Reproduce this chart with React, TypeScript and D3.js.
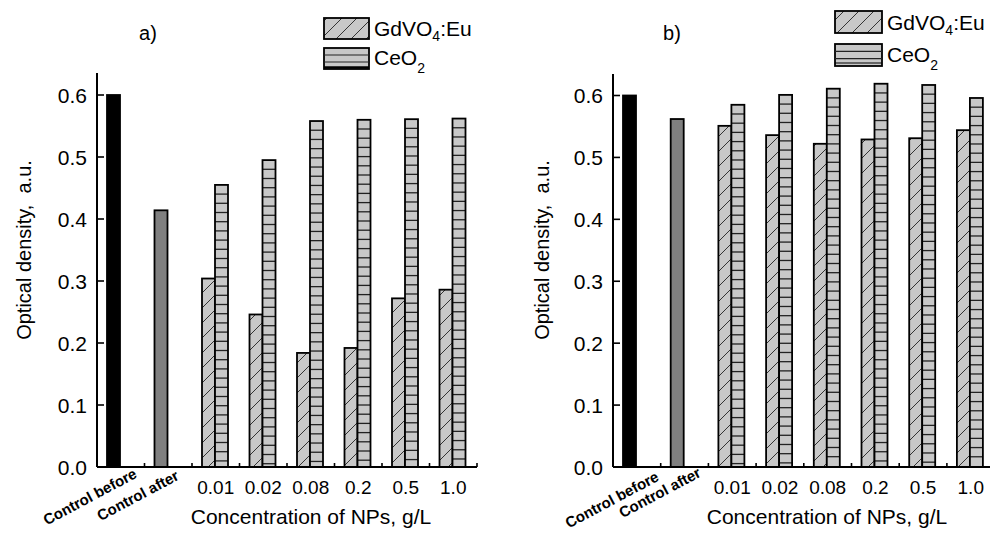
import React, { useRef, useEffect } from 'react';
import * as d3 from 'd3';

// categories along the x axis (two controls + NP concentrations, g/L)
const categories = ['Control before', 'Control after', '0.01', '0.02', '0.08', '0.2', '0.5', '1.0'];
const controlCats = ['Control before', 'Control after'];
const concCats = ['0.01', '0.02', '0.08', '0.2', '0.5', '1.0'];
const yTicks = [0, 0.1, 0.2, 0.3, 0.4, 0.5, 0.6];

// panel a)
const controlA = [0.6, 0.414];
const gdvoA = [0.304, 0.246, 0.184, 0.192, 0.272, 0.286];
const ceoA = [0.455, 0.495, 0.558, 0.56, 0.561, 0.562];

// panel b)
const controlB = [0.6, 0.562];
const gdvoB = [0.551, 0.536, 0.522, 0.529, 0.531, 0.544];
const ceoB = [0.585, 0.601, 0.611, 0.619, 0.617, 0.596];

const FONT = "Arial, 'Liberation Sans', sans-serif";
const GREY = '#c8c8c8';

const App = () => {
  const svgRef = useRef<SVGSVGElement>(null);

  useEffect(() => {
    const svg = d3.select(svgRef.current);
    svg.selectAll('*').remove();

    const defs = svg.append('defs');
    const hatch = defs.append('pattern')
      .attr('id', 'hatch')
      .attr('patternUnits', 'userSpaceOnUse')
      .attr('width', 15)
      .attr('height', 15);
    hatch.append('rect').attr('width', 15).attr('height', 15).attr('fill', GREY);
    hatch.append('path')
      .attr('d', 'M0,15 L15,0 M-3,3 L3,-3 M12,18 L18,12')
      .attr('stroke', '#333')
      .attr('stroke-width', 1);

    const panels = [
      { label: 'a)', axisX: 97, top: 73, base: 467, y06: 95, band: 47.5, right: 477,
        controls: controlA, gdvo: gdvoA, ceo: ceoA, yLabelX: 31, titleX: 148, titleCx: 311,
        ctrlEnd: [[138, 477], [180, 479]], doubleBottom: false,
        legendX: 324, legendY: [18, 48], legendW: 45, legendH: 21 },
      { label: 'b)', axisX: 613, top: 74, base: 467, y06: 95.5, band: 47.7, right: 995,
        controls: controlB, gdvo: gdvoB, ceo: ceoB, yLabelX: 549, titleX: 672, titleCx: 827,
        ctrlEnd: [[660, 480], [702, 476]], doubleBottom: true,
        legendX: 835, legendY: [11, 44], legendW: 47, legendH: 22 },
    ];

    panels.forEach(p => {
      const g = svg.append('g');
      const x = d3.scaleBand()
        .domain(categories)
        .range([p.axisX, p.axisX + p.band * categories.length])
        .paddingInner(0)
        .paddingOuter(0);
      const y = d3.scaleLinear().domain([0, 0.6]).range([p.base, p.y06]);
      const barW = 13;
      const off = 10;

      // control bars
      g.selectAll('.ctrl')
        .data(controlCats)
        .enter().append('rect')
        .attr('x', d => x(d)! + off)
        .attr('y', (d, i) => y(p.controls[i]))
        .attr('width', barW)
        .attr('height', (d, i) => p.base - y(p.controls[i]))
        .attr('fill', (d, i) => (i === 0 ? '#000' : '#808080'))
        .attr('stroke', '#000')
        .attr('stroke-width', 1.8);

      // GdVO4:Eu hatched bars
      g.selectAll('.gd')
        .data(concCats)
        .enter().append('rect')
        .attr('x', d => x(d)! + off)
        .attr('y', (d, i) => y(p.gdvo[i]))
        .attr('width', barW)
        .attr('height', (d, i) => p.base - y(p.gdvo[i]))
        .attr('fill', 'url(#hatch)')
        .attr('stroke', '#000')
        .attr('stroke-width', 1.8);

      // CeO2 bars with horizontal lines
      concCats.forEach((c, i) => {
        const bx = x(c)! + off + barW;
        const top = y(p.ceo[i]);
        g.append('rect')
          .attr('x', bx)
          .attr('y', top)
          .attr('width', barW)
          .attr('height', p.base - top)
          .attr('fill', GREY);
        for (let ly = top + 9.2; ly < p.base - 2; ly += 9.2) {
          g.append('line')
            .attr('x1', bx).attr('x2', bx + barW)
            .attr('y1', ly).attr('y2', ly)
            .attr('stroke', '#222').attr('stroke-width', 1.3);
        }
        g.append('rect')
          .attr('x', bx)
          .attr('y', top)
          .attr('width', barW)
          .attr('height', p.base - top)
          .attr('fill', 'none')
          .attr('stroke', '#000')
          .attr('stroke-width', 1.8);
      });

      // y axis
      g.append('line')
        .attr('x1', p.axisX).attr('x2', p.axisX)
        .attr('y1', p.top).attr('y2', p.base)
        .attr('stroke', '#000').attr('stroke-width', 2);
      yTicks.forEach(t => {
        g.append('line')
          .attr('x1', p.axisX).attr('x2', p.axisX + 7)
          .attr('y1', y(t)).attr('y2', y(t))
          .attr('stroke', '#000').attr('stroke-width', 1.6);
        g.append('text')
          .attr('x', p.axisX - 10)
          .attr('y', y(t))
          .attr('dy', '0.36em')
          .attr('text-anchor', 'end')
          .attr('font-family', FONT)
          .attr('font-size', 21)
          .text(d3.format('.1f')(t));
      });

      // x axis
      g.append('line')
        .attr('x1', p.axisX).attr('x2', p.right)
        .attr('y1', p.base).attr('y2', p.base)
        .attr('stroke', '#000').attr('stroke-width', 2);
      categories.forEach(c => {
        const tx = x(c)! + x.bandwidth();
        g.append('line')
          .attr('x1', tx).attr('x2', tx)
          .attr('y1', p.base).attr('y2', p.base - 4)
          .attr('stroke', '#000').attr('stroke-width', 1.6);
      });
      concCats.forEach(c => {
        g.append('text')
          .attr('x', x(c)! + x.bandwidth() / 2)
          .attr('y', p.base + 27)
          .attr('text-anchor', 'middle')
          .attr('font-family', FONT)
          .attr('font-size', 19)
          .text(c);
      });
      controlCats.forEach((c, i) => {
        g.append('text')
          .attr('transform', `translate(${p.ctrlEnd[i][0]},${p.ctrlEnd[i][1]}) rotate(-28)`)
          .attr('text-anchor', 'end')
          .attr('font-family', FONT)
          .attr('font-weight', 'bold')
          .attr('font-size', 15)
          .text(c);
      });

      // axis titles
      g.append('text')
        .attr('x', p.titleCx)
        .attr('y', p.base + 57)
        .attr('text-anchor', 'middle')
        .attr('font-family', FONT)
        .attr('font-size', 21)
        .text('Concentration of NPs, g/L');
      g.append('text')
        .attr('transform', `translate(${p.yLabelX},250) rotate(-90)`)
        .attr('text-anchor', 'middle')
        .attr('font-family', FONT)
        .attr('font-size', 20)
        .attr('xml:space', 'preserve')
        .text('Optical density,  a.u.');

      // panel title
      g.append('text')
        .attr('x', p.titleX)
        .attr('y', 40)
        .attr('text-anchor', 'middle')
        .attr('font-family', FONT)
        .attr('font-size', 20)
        .text(p.label);

      // legend
      const lx = p.legendX;
      const [ly1, ly2] = p.legendY;
      g.append('rect')
        .attr('x', lx).attr('y', ly1)
        .attr('width', p.legendW).attr('height', p.legendH)
        .attr('fill', 'url(#hatch)')
        .attr('stroke', '#000').attr('stroke-width', 1.8);
      g.append('rect')
        .attr('x', lx).attr('y', ly2)
        .attr('width', p.legendW).attr('height', p.legendH)
        .attr('fill', GREY)
        .attr('stroke', '#000').attr('stroke-width', 1.8);
      [1 / 3, 2 / 3].forEach(f => {
        g.append('line')
          .attr('x1', lx).attr('x2', lx + p.legendW)
          .attr('y1', ly2 + p.legendH * f).attr('y2', ly2 + p.legendH * f)
          .attr('stroke', '#222').attr('stroke-width', 1.2);
      });
      if (p.doubleBottom) {
        g.append('line')
          .attr('x1', lx).attr('x2', lx + p.legendW)
          .attr('y1', ly2 + p.legendH - 3).attr('y2', ly2 + p.legendH - 3)
          .attr('stroke', '#000').attr('stroke-width', 1.2);
      } else {
        g.append('line')
          .attr('x1', lx).attr('x2', lx + p.legendW)
          .attr('y1', ly2 + p.legendH - 1.5).attr('y2', ly2 + p.legendH - 1.5)
          .attr('stroke', '#000').attr('stroke-width', 2.5);
      }

      const t1 = g.append('text')
        .attr('x', lx + p.legendW + 5)
        .attr('y', ly1 + p.legendH - 3)
        .attr('font-family', FONT)
        .attr('font-size', 21);
      t1.append('tspan').text('GdVO');
      t1.append('tspan').attr('dy', 5).attr('font-size', 14).text('4');
      t1.append('tspan').attr('dy', -5).text(':Eu');

      const t2 = g.append('text')
        .attr('x', lx + p.legendW + 5)
        .attr('y', ly2 + p.legendH - 4)
        .attr('font-family', FONT)
        .attr('font-size', 21);
      t2.append('tspan').text('CeO');
      t2.append('tspan').attr('dy', 8).attr('font-size', 14).text('2');
    });
  }, []);

  return (
    <svg
      ref={svgRef}
      width="990"
      height="533"
      style={{ position: 'absolute', left: 0, top: 0, background: '#fff' }}
    />
  );
};

export default App;
